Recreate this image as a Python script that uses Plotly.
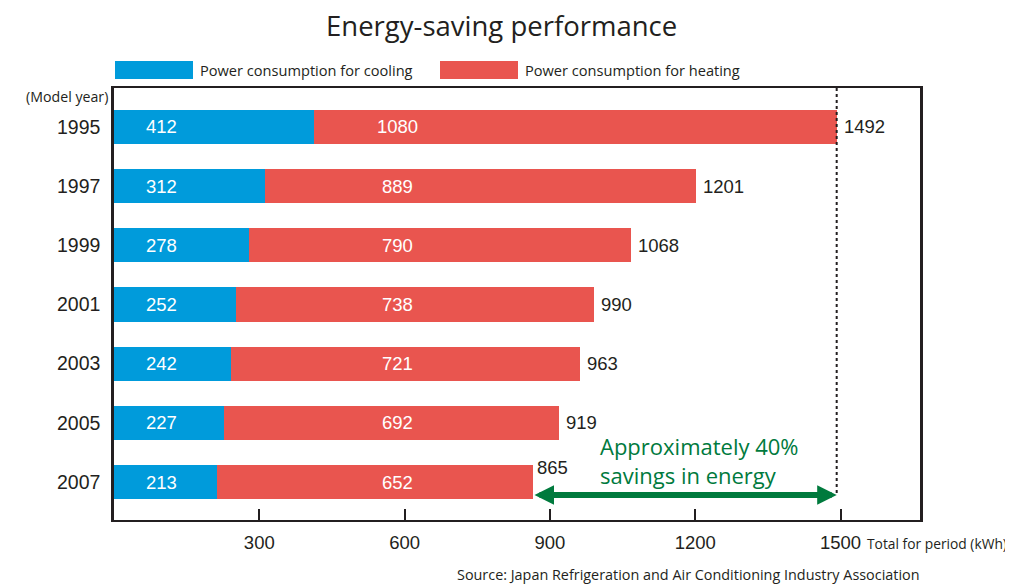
import plotly.graph_objects as go

years = ["1995", "1997", "1999", "2001", "2003", "2005", "2007"]
cooling = [412, 312, 278, 252, 242, 227, 213]
heating = [1080, 889, 790, 738, 721, 692, 652]
totals = [1492, 1201, 1068, 990, 963, 919, 865]
x_ticks = [300, 600, 900, 1200, 1500]

BLUE = "#009bdb"
RED = "#e9554f"
GREEN = "#007a3d"
DARK = "#231f20"
NUM_FONT = "Liberation Sans, Arial, sans-serif"
HUM_FONT = "Open Sans, sans-serif"

OFF = 8  # page body margin
W, H = 1013 - OFF, 585 - OFF
L, T = 114 - OFF, 88 - OFF
R = W - (920 - OFF)
B = H - (520 - OFF)
pw, ph = W - L - R, H - T - B
def px(xp):  # page pixel -> paper
    return (xp - OFF - L) / pw
def py(yp):
    return (H - B - (yp - OFF)) / ph

fig = go.Figure()
fig.add_trace(go.Bar(y=years, x=cooling, orientation="h", marker=dict(color=BLUE, line=dict(width=0)),
                     width=0.58, name="Power consumption for cooling", hoverinfo="x"))
fig.add_trace(go.Bar(y=years, x=heating, orientation="h", marker=dict(color=RED, line=dict(width=0)),
                     width=0.58, name="Power consumption for heating", hoverinfo="x"))

ann = []
for i, y in enumerate(years):
    ann.append(dict(x=98, y=i, text=str(cooling[i]), showarrow=False, xanchor="center",
                    font=dict(family=NUM_FONT, size=18.5, color="white")))
    ann.append(dict(x=586, y=i, text=str(heating[i]), showarrow=False, xanchor="center",
                    font=dict(family=NUM_FONT, size=18.5, color="white")))
    if i < len(years) - 1:
        ann.append(dict(x=totals[i], y=i, text=str(totals[i]), showarrow=False, xanchor="left",
                        xshift=5, font=dict(family=NUM_FONT, size=18.5, color=DARK)))
    else:
        ann.append(dict(x=totals[i], y=i - 0.24, text=str(totals[i]), showarrow=False, xanchor="left",
                        xshift=2, font=dict(family=NUM_FONT, size=18.5, color=DARK)))

# double arrow between 2007 total and 1995 total
ann.append(dict(x=totals[0], y=6.22, ax=totals[-1], ay=6.22, axref="x", ayref="y", xref="x", yref="y",
                text="", showarrow=True, arrowhead=2, arrowsize=0.65, arrowwidth=6, arrowcolor=GREEN,
                arrowside="end+start", startarrowhead=2, startarrowsize=0.65, standoff=0, startstandoff=0))
ann.append(dict(x=px(598), y=py(460), xref="paper", yref="paper", text="Approximately 40%<br>savings in energy",
                showarrow=False, xanchor="left", yanchor="middle", align="left",
                font=dict(family=HUM_FONT, size=22, color=GREEN)))

# paper-level texts
ann.append(dict(x=px(501), y=py(26), xref="paper", yref="paper", yanchor="middle", xanchor="center",
                text="Energy-saving performance", showarrow=False, borderpad=0,
                font=dict(family=HUM_FONT, size=27.5, color=DARK)))
ann.append(dict(x=px(110), y=py(96.5), xref="paper", yref="paper", xanchor="right", yanchor="middle",
                text="(Model year)", showarrow=False, font=dict(family=HUM_FONT, size=14.2, color=DARK)))
ann.append(dict(x=px(866), y=py(543), xref="paper", yref="paper", xanchor="left", yanchor="middle",
                text="Total for period (kWh)", showarrow=False, borderpad=0,
                font=dict(family=HUM_FONT, size=13.8, color=DARK)))
ann.append(dict(x=px(921), y=py(574.5), xref="paper", yref="paper", xanchor="right", yanchor="middle",
                text="Source: Japan Refrigeration and Air Conditioning Industry Association", showarrow=False,
                borderpad=0, font=dict(family=HUM_FONT, size=14.4, color=DARK)))

shapes = []
# dotted reference line at the 1995 total
shapes.append(dict(type="line", xref="x", yref="y", x0=totals[0], x1=totals[0], y0=-0.659, y1=6.22,
                   line=dict(color=DARK, width=2, dash="dot")))

legend_items = [("Power consumption for cooling", BLUE, 115), ("Power consumption for heating", RED, 440)]
for label, col, x0 in legend_items:
    shapes.append(dict(type="rect", xref="paper", yref="paper", x0=px(x0), x1=px(x0 + 78), y0=py(79), y1=py(61),
                       fillcolor=col, line=dict(width=0)))
    ann.append(dict(x=px(x0 + 83), y=py(70), xref="paper", yref="paper", xanchor="left", yanchor="middle",
                    text=label, showarrow=False, font=dict(family=HUM_FONT, size=14.6, color=DARK)))

fig.update_layout(
    width=W, height=H, barmode="stack", showlegend=False,
    margin=dict(l=L, r=R, t=T, b=B),
    plot_bgcolor="white", paper_bgcolor="white",
    annotations=ann, shapes=shapes,
    xaxis=dict(range=[0, 1664], tickvals=x_ticks, ticktext=[str(v) for v in x_ticks], ticks="inside",
               ticklen=11, tickwidth=2, tickcolor=DARK, showline=True, linecolor=DARK, linewidth=2,
               mirror=True, showgrid=False, zeroline=False, ticklabelstandoff=5,
               tickfont=dict(family=NUM_FONT, size=18.5, color=DARK)),
    yaxis=dict(type="category", categoryorder="array", categoryarray=years, range=[6.642, -0.659],
               showline=True, linecolor=DARK, linewidth=2.5, mirror=True, showgrid=False, zeroline=False,
               ticks="", ticklabelstandoff=7, tickfont=dict(family=NUM_FONT, size=19.5, color=DARK)),
)

fig.write_html("out.html")
